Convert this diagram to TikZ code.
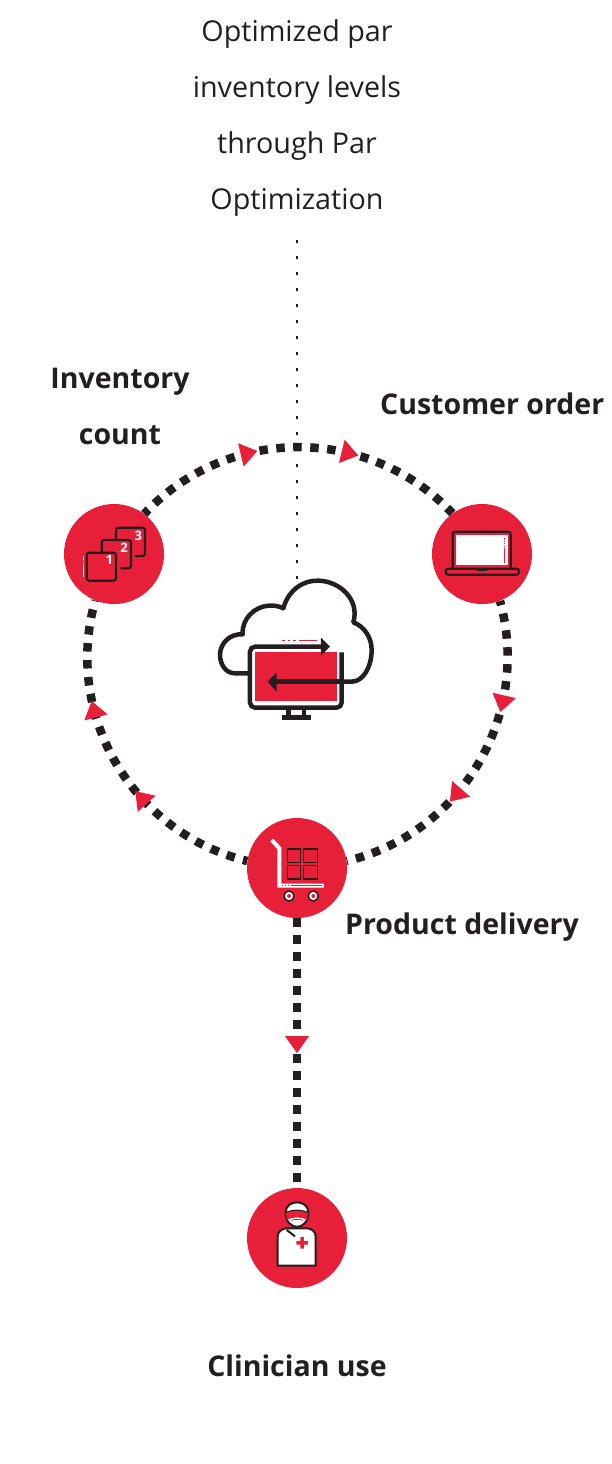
\documentclass[tikz,border=0pt]{standalone}
\usepackage{fontspec}
\setmainfont{Open Sans}
\usetikzlibrary{decorations.markings,backgrounds}
\definecolor{brandred}{HTML}{E81F39}
\definecolor{inkblack}{HTML}{231F20}
\tikzset{
  badge/.style={circle,fill=brandred,minimum size=100pt,inner sep=0pt},
  plaintext/.style={text=inkblack,font=\fontsize{28.7}{56}\selectfont,align=center,inner sep=0pt},
  boldtext/.style={text=inkblack,font=\fontsize{28.5}{56}\selectfont\bfseries,align=center,inner sep=0pt},
  flowline/.style={draw=inkblack,line width=8.5pt,dash pattern=on 8.5pt off 8.5pt,dash phase=#1},
  flowline/.default=2.35pt,
  redtip/.style={postaction={decorate,decoration={markings,mark=at position #1 with {\fill[brandred] (-8,-12) -- (9,0) -- (-8,12) -- cycle;}}}},
  iconzoom/.style={shift={#1},scale=0.3333},
  iconline/.style={draw=inkblack,line width=2.2pt,rounded corners=2.5pt},
  cloudline/.style={draw=inkblack,line width=4.5pt},
  numtext/.style={text=white,font=\fontsize{13}{13}\selectfont\bfseries,inner sep=0pt}
}
\begin{document}
\begin{tikzpicture}[x=1pt,y=-1pt]
\useasboundingbox (0,0) rectangle (612,1464);
\node[plaintext] (goal) at (297,118) {Optimized par\\inventory levels\\through Par\\Optimization};
\node[boldtext] (invlabel) at (120,406) {Inventory\\count};
\node[boldtext,anchor=west] (custlabel) at (380,404) {Customer order};
\node[boldtext,anchor=west] (dellabel) at (345,927) {Product delivery};
\node[boldtext] (clinlabel) at (297,1366) {Clinician use};
\node[badge] (invcount) at (114,554) {};
\node[badge] (custorder) at (482,554) {};
\node[badge] (delivery) at (297,868) {};
\node[badge] (clinician) at (297,1238) {};
\coordinate (dottop) at (297,240);
\coordinate (dotend) at (297,580);
\draw[inkblack,line width=2.5pt,dash pattern=on 2.5pt off 13.5pt] (dottop) -- (dotend);
% ring
\begin{scope}[on background layer]
\path[flowline] (invcount.53.7) to[bend left=46.9,looseness=1.01] (custorder.126.3);
\path[flowline=4pt] (custorder.-69.6) to[bend left=46,looseness=1.005] (delivery.8);
\path[flowline=4pt] (delivery.172) to[bend left=46,looseness=1.005] (invcount.-112.6);
\path[flowline=0pt] (delivery) -- (clinician);
\end{scope}
\path[redtip=0.355,redtip=0.65] (invcount.53.7) to[bend left=46.9,looseness=1.01] (custorder.126.3);
\path[redtip=0.307,redtip=0.615] (custorder.-69.6) to[bend left=46,looseness=1.005] (delivery.8);
\path[redtip=0.372,redtip=0.672] (delivery.172) to[bend left=46,looseness=1.005] (invcount.-112.6);
\path[redtip=0.467] (delivery) -- (clinician);
% cloud
\begin{scope}[iconzoom={(200,565)}]
\draw[cloudline,line join=round] (150,325) -- (105,325) .. controls (75,325) and (60,295) .. (60,270)
  .. controls (60,235) and (90,205) .. (128,208) .. controls (125,160) and (165,125) .. (205,122)
  .. controls (225,120) and (240,125) .. (250,130) .. controls (265,75) and (310,45) .. (355,47)
  .. controls (420,48) and (480,105) .. (460,172) .. controls (495,185) and (515,220) .. (515,255)
  .. controls (515,305) and (490,350) .. (455,350) -- (430,350);
\fill[brandred] (165,262) rectangle (410,408);
\draw[cloudline,rounded corners=5pt] (370,245) -- (150,245) -- (150,428) -- (425,428) -- (425,262);
\fill[inkblack] (363,218) -- (390,245) -- (363,272) -- cycle;
\draw[cloudline] (425,350) -- (225,350);
\fill[inkblack] (203,350) -- (230,322) -- (230,380) -- cycle;
\draw[brandred,line width=1.6pt,dash pattern=on 2.5pt off 3pt] (247,226) -- (288,226);
\draw[brandred,line width=1.6pt] (297,226) -- (352,226);
\draw[cloudline] (265,430) -- (265,458) (312,430) -- (312,458);
\draw[cloudline] (245,458) -- (332,458);
\end{scope}
% stacked squares
\begin{scope}[iconzoom={(50,490)}]
\draw[iconline] (198,188) rectangle (110,272);
\draw[iconline] (155,188) -- (155,150) -- (243,150) -- (243,235) -- (212,235);
\draw[iconline] (198,150) -- (198,113) -- (285,113) -- (285,198) -- (255,198);
\node[numtext] (numone) at (178,210) {1};
\node[numtext] (numtwo) at (222,173) {2};
\node[numtext] (numthree) at (265,137) {3};
\draw[white,line width=0.8pt,dash pattern=on 1.2pt off 1.2pt] (100,198) -- (100,222);
\draw[white,line width=0.8pt] (100,226) -- (100,262);
\end{scope}
% laptop
\begin{scope}[iconzoom={(420,490)}]
\fill[white] (108,135) rectangle (264,226);
\draw[iconline] (98,238) -- (98,125) -- (272,125) -- (272,238);
\draw[brandred,line width=0.9pt,dash pattern=on 1.2pt off 1.2pt] (252,145) -- (252,170);
\draw[brandred,line width=0.9pt] (252,174) -- (252,218);
\draw[iconline,fill=brandred] (77,236) rectangle (297,254);
\fill[inkblack] (170,236) rectangle (202,243);
\end{scope}
% cart
\begin{scope}[iconzoom={(235,805)}]
\draw[white,line width=4pt,line join=miter] (110,105) -- (133,130) -- (133,242) -- (267,242);
\draw[brandred,line width=0.9pt,dash pattern=on 1.5pt off 1.5pt] (140,240) -- (165,240);
\draw[brandred,line width=0.9pt] (168,240) -- (262,240);
\draw[inkblack,line width=1.5pt] (157,132) rectangle (197,172) (206,132) rectangle (247,172)
  (157,181) rectangle (197,222) (206,181) rectangle (247,222);
\draw[inkblack,fill=white,line width=1.5pt] (162,273) circle (15) (235,273) circle (15);
\fill[brandred] (162,273) circle (6) (235,273) circle (6);
\end{scope}
% clinician
\begin{scope}[iconzoom={(235,1175)}]
\draw[inkblack,fill=white,line width=2pt,line join=round] (128,272) -- (128,185) .. controls (128,170) and (140,162) .. (152,160)
  -- (218,160) .. controls (232,162) and (242,170) .. (242,185) -- (242,272) -- cycle;
\draw[inkblack,line width=2pt] (155,165) -- (180,184);
\fill[brandred] (196,186) rectangle (207,221) (184,198) rectangle (219,209);
\draw[inkblack,fill=white,line width=2pt] (152,112) .. controls (152,72) and (220,72) .. (220,112)
  .. controls (220,170) and (152,170) .. (152,112) -- cycle;
\fill[brandred] (153,112) .. controls (175,103) and (197,103) .. (219,112) -- (216,134) .. controls (197,125) and (175,125) .. (156,134) -- cycle;
\draw[inkblack,line width=1pt] (153,112) .. controls (175,103) and (197,103) .. (219,112);
\draw[brandred,line width=0.8pt] (168,136) .. controls (178,132) and (194,132) .. (204,136);
\end{scope}
\end{tikzpicture}
\end{document}
